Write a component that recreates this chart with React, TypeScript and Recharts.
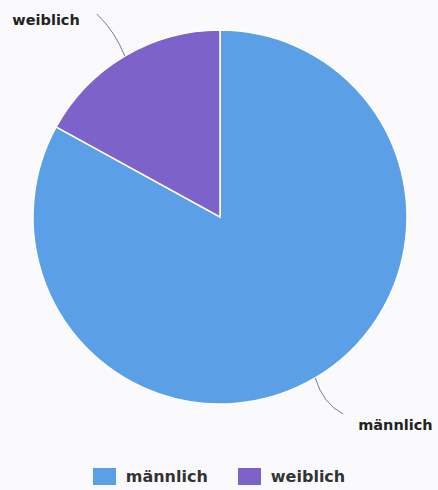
import React from "react";
import { PieChart, Pie, Cell, Legend } from "recharts";

const categories = ["männlich", "weiblich"];
const values = [83, 17];
const colors = ["#5ba0e6", "#7c62c9"];

const data = categories.map((name, i) => ({ name, value: values[i] }));

const RAD = Math.PI / 180;

const renderLabel = (props: any) => {
  const { cx, cy, outerRadius, midAngle, name } = props;
  const sx = cx + outerRadius * Math.cos(-midAngle * RAD);
  const sy = cy + outerRadius * Math.sin(-midAngle * RAD);
  const left = Math.cos(-midAngle * RAD) < 0;
  const ex = left ? sx - 28 : sx + 28;
  const ey = left ? sy - 42 : sy + 36;
  const qx = left ? sx - 10 : sx + 8;
  const qy = left ? sy - 25 : sy + 26;
  const tx = left ? ex - 17 : ex + 15;
  const ty = left ? ey + 11 : ey + 16;
  return (
    <g>
      <path
        d={`M${sx},${sy} Q${qx},${qy} ${ex},${ey}`}
        stroke="#6f7d99"
        strokeWidth={1}
        fill="none"
      />
      <text
        x={tx}
        y={ty}
        textAnchor={left ? "end" : "start"}
        fontFamily="DejaVu Sans"
        fontWeight="bold"
        fontSize={14.5}
        fill="#222"
      >
        {name}
      </text>
    </g>
  );
};

const renderLegend = () => (
  <div
    style={{
      display: "flex",
      justifyContent: "center",
      alignItems: "center",
      fontFamily: "DejaVu Sans",
      fontWeight: "bold",
      fontSize: 16,
      color: "#333",
    }}
  >
    {categories.map((c, i) => (
      <div key={c} style={{ display: "flex", alignItems: "center", marginLeft: i ? 30 : 0 }}>
        <div style={{ width: 23, height: 17, background: colors[i], marginRight: 10 }} />
        <span>{c}</span>
      </div>
    ))}
  </div>
);

export default function App() {
  return (
    <div style={{ position: "absolute", left: 0, top: 0, background: "#fafafd" }}>
      <PieChart width={438} height={490} margin={{ top: 0, right: 0, bottom: 0, left: 0 }}>
        <Pie
          data={data}
          dataKey="value"
          nameKey="name"
          cx={220}
          cy={217}
          outerRadius={187}
          startAngle={90}
          endAngle={-270}
          stroke="#ffffff"
          strokeWidth={1.5}
          label={renderLabel}
          labelLine={false}
          isAnimationActive={false}
        >
          {data.map((d, i) => (
            <Cell key={d.name} fill={colors[i]} />
          ))}
        </Pie>
        <Legend
          content={renderLegend}
          verticalAlign="bottom"
          wrapperStyle={{ top: 467, left: 0, width: 438 }}
        />
      </PieChart>
    </div>
  );
}
